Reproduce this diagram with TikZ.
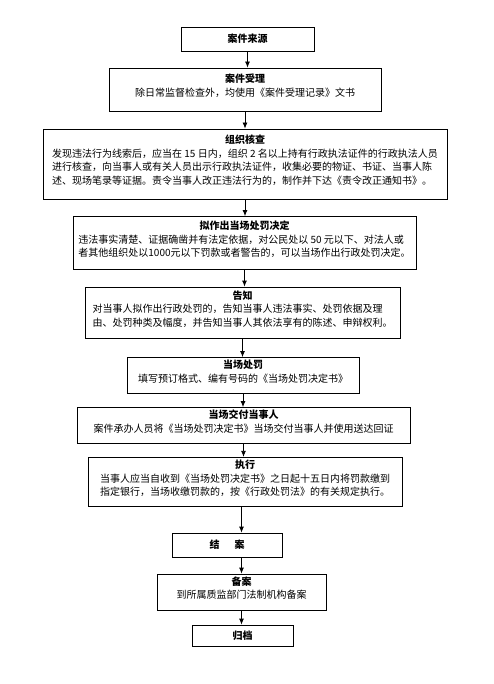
\documentclass[tikz,border=0pt]{standalone}
\usepackage{fontspec}
\setmainfont{Noto Sans CJK SC}
\usepackage{tikz}
\usetikzlibrary{positioning, arrows.meta}
\newcommand{\stagetext}[2]{\begin{tabular}{@{}l@{}}\multicolumn{1}{@{}c@{}}{\textbf{#1}}\\#2\\[5pt]\end{tabular}}

\begin{document}
\begin{tikzpicture}[x = 1pt, y = -1pt, thick, >={Latex[length = 6pt, width = 5pt]}, stage/.style={rectangle, draw, fill = white, inner sep = 2pt, font = \fontsize{10}{13.5}\selectfont}]
  \useasboundingbox (0,0) rectangle (494,684);
  % nodes
  \node [stage, minimum width = 133pt, minimum height = 24pt] (source) at (247.5,39) {\textbf{案件来源}};
  \node [stage, minimum width = 272pt, minimum height = 43pt] (accept) at (245,89.5) {\stagetext{案件受理}{除日常监督检查外，均使用《案件受理记录》文书}};
  \node [stage, minimum width = 404pt, minimum height = 70pt] (check) at (245,164) {\stagetext{组织核查}{发现违法行为线索后，应当在 15 日内，组织 2 名以上持有行政执法证件的行政执法人员\\进行核查，向当事人或有关人员出示行政执法证件，收集必要的物证、书证、当事人陈\\述、现场笔录等证据。责令当事人改正违法行为的，制作并下达《责令改正通知书》。}};
  \node [stage, minimum width = 343pt, minimum height = 53pt] (decide) at (244.5,243) {\stagetext{拟作出当场处罚决定}{违法事实清楚、证据确凿并有法定依据，对公民处以 50 元以下、对法人或\\者其他组织处以1000元以下罚款或者警告的，可以当场作出行政处罚决定。}};
  \node [stage, minimum width = 315pt, minimum height = 51pt] (notify) at (242.5,312.5) {\stagetext{告知}{对当事人拟作出行政处罚的，告知当事人违法事实、处罚依据及理\\由、处罚种类及幅度，并告知当事人其依法享有的陈述、申辩权利。}};
  \node [stage, minimum width = 232pt, minimum height = 31pt] (penalty) at (243,375.5) {\stagetext{当场处罚}{填写预订格式、编有号码的《当场处罚决定书》}};
  \node [stage, minimum width = 333pt, minimum height = 35pt] (deliver) at (243.5,425.5) {\stagetext{当场交付当事人}{案件承办人员将《当场处罚决定书》当场交付当事人并使用送达回证}};
  \node [stage, minimum width = 314pt, minimum height = 42pt] (execute) at (245,482) {\stagetext{执行}{当事人应当自收到《当场处罚决定书》之日起十五日内将罚款缴到\\指定银行，当场收缴罚款的，按《行政处罚法》的有关规定执行。}};
  \node [stage, minimum width = 110pt, minimum height = 24pt] (close) at (227,545) {\textbf{结\hspace{1.5em}案}};
  \node [stage, minimum width = 169pt, minimum height = 34pt] (record) at (241.5,592) {\stagetext{备案}{到所属质监部门法制机构备案}};
  \node [stage, minimum width = 101pt, minimum height = 21pt] (archive) at (242.5,635.5) {\textbf{归档}};

  % edges
  \draw [->] (source.south) -- (source.south |- accept.north);
  \draw [->] (accept.south) -- (accept.south |- check.north);
  \draw [->] (check.south) -- (check.south |- decide.north);
  \draw [->] (decide.south) -- (decide.south |- notify.north);
  \draw [->] (notify.south) -- (notify.south |- penalty.north);
  \draw [->] (penalty.south) -- (penalty.south |- deliver.north);
  \draw [->] (deliver.south) -- (deliver.south |- execute.north);
  \draw [->] (execute.south -| record.north) -- (close.north -| record.north);
  \draw [->] (close.south -| record.north) -- (record.north);
  \draw [->] (record.south) -- (record.south |- archive.north);
\end{tikzpicture}
\end{document}
